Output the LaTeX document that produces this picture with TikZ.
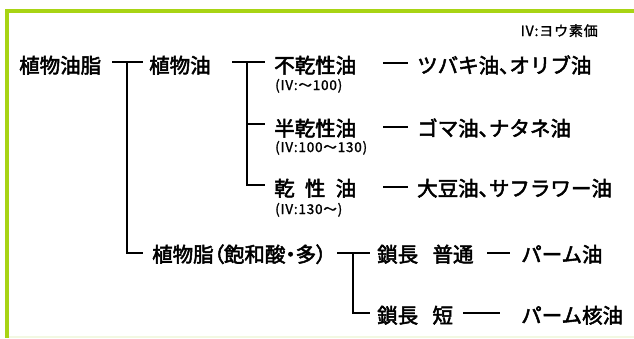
\documentclass[tikz,border=0pt]{standalone}
\usepackage{fontspec}
\setmainfont[RawFeature={embolden=2.5}]{Noto Sans CJK JP}
\newfontfamily\paltfont[RawFeature={+palt;embolden=2.5}]{Noto Sans CJK JP}
\newfontfamily\smallfont[LetterSpace=6, RawFeature={embolden=1.5}]{Noto Sans CJK JP}
\newcommand{\tten}{{\paltfont 、}}
\definecolor{lime}{HTML}{A8D414}
\definecolor{palelime}{HTML}{F2F8E2}
\begin{document}
\begin{tikzpicture}[x=1pt,y=-1pt,
  main/.style={font=\fontsize{20.5pt}{24pt}\selectfont, inner sep=0pt, anchor=base west},
  small/.style={font=\smallfont\fontsize{13.5pt}{16pt}\selectfont, inner sep=0pt, anchor=base west},
  conn/.style={line width=1.5pt, black}]
\useasboundingbox (0,0) rectangle (634,338);
% frame
\fill[lime] (5,9) rectangle (634,13);
\fill[lime] (5,9) rectangle (9,338);
\fill[palelime] (9,336) rectangle (634,338);
% note
\node[small, anchor=base east, font=\smallfont\fontsize{14pt}{16pt}\selectfont] (note) at (598,36) {IV:ヨウ素価};
% nodes
\node[main] (root) at (19,73) {植物油脂};
\node[main] (oil) at (149,73) {植物油};
\node[main] (nd) at (274,73) {不乾性油};
\node[small] (ndiv) at (275,90) {(IV:～100)};
\node[main] (ndex) at (417,73) {ツバキ油\tten オリブ油};
\node[main] (sd) at (274,136) {半乾性油};
\node[small] (sdiv) at (275,152) {(IV:100～130)};
\node[main] (sdex) at (417,136) {ゴマ油\tten ナタネ油};
\node[main] (dr) at (274,196) {\makebox[4em][l]{乾\hfill 性\hfill 油}};
\node[small] (driv) at (275,214) {(IV:130～)};
\node[main] (drex) at (417,196) {大豆油\tten サフラワー油};
\node[main] (fat) at (152,262) {\paltfont 植物脂（飽和酸・多）};
\node[main] (cn) at (377,262) {鎖長\hspace{0.7em}普通};
\node[main] (cnex) at (521,262) {パーム油};
\node[main] (cs) at (377,323) {鎖長\hspace{0.7em}短};
\node[main] (csex) at (521,323) {パーム核油};
% junction coordinates
\coordinate (a1) at (112,62); \coordinate (a2) at (143,62);
\coordinate (av) at (127,62); \coordinate (ab) at (127,253); \coordinate (a3) at (143,253);
\coordinate (b1) at (232,62); \coordinate (b2) at (265,62);
\coordinate (bv) at (247,62); \coordinate (bm) at (247,124); \coordinate (bm2) at (265,124);
\coordinate (bb) at (247,185); \coordinate (bb2) at (265,185);
\coordinate (c1a) at (383,63); \coordinate (c1b) at (408,63);
\coordinate (c2a) at (383,127); \coordinate (c2b) at (408,127);
\coordinate (c3a) at (383,187); \coordinate (c3b) at (408,187);
\coordinate (d1) at (337,253); \coordinate (d2) at (370,253);
\coordinate (dv) at (353,253); \coordinate (db) at (353,313); \coordinate (db2) at (370,313);
\coordinate (e1) at (487,253); \coordinate (e2) at (510,253);
\coordinate (f1) at (463,313); \coordinate (f2) at (500,313);
% connectors
\draw[conn] (a1) -- (a2);
\draw[conn] (av) -- (ab) -- (a3);
\draw[conn] (b1) -- (b2);
\draw[conn] (bv) -- (bb) -- (bb2);
\draw[conn] (bm) -- (bm2);
\draw[conn] (c1a) -- (c1b);
\draw[conn] (c2a) -- (c2b);
\draw[conn] (c3a) -- (c3b);
\draw[conn] (d1) -- (d2);
\draw[conn] (dv) -- (db) -- (db2);
\draw[conn] (e1) -- (e2);
\draw[conn] (f1) -- (f2);
\end{tikzpicture}
\end{document}
